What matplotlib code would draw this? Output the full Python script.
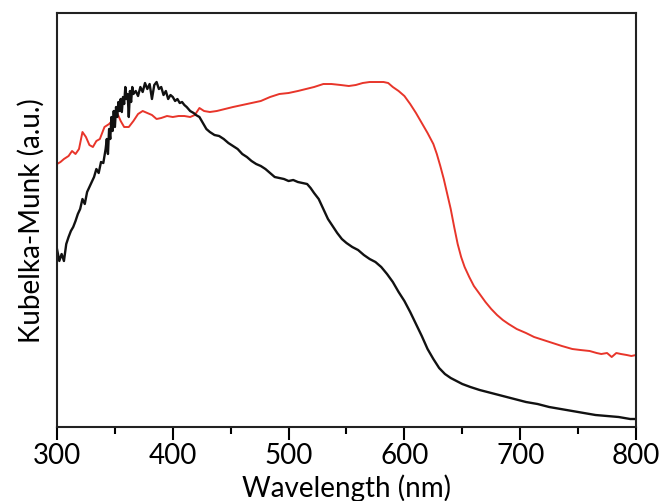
import matplotlib.pyplot as plt
from matplotlib.ticker import MultipleLocator

# red sample: wavelength (nm) and Kubelka-Munk (a.u.)
red_wl = [300, 303, 306, 310, 313, 316, 319, 322, 325, 328, 331, 334, 337, 341, 345,
          349, 352, 355, 358, 362, 366, 370, 374, 378, 382, 386, 390, 395, 400, 405,
          410, 415, 419, 423, 427, 432, 438, 445, 452, 460, 468, 476, 484, 492, 500,
          508, 515, 522, 530, 537, 545, 552, 558, 564, 570, 576, 582, 586, 590, 595,
          600, 605, 610, 615, 620, 625, 628, 631, 634, 637, 640, 643, 646, 649, 652,
          656, 660, 665, 670, 675, 680, 685, 690, 697, 705, 712, 720, 728, 736, 745,
          752, 760, 766, 770, 775, 779, 783, 787, 792, 796, 800]
red_km = [263, 265, 268, 271, 276, 273, 278, 295, 290, 282, 280, 286, 288, 300, 303,
          308, 314, 306, 300, 300, 306, 313, 316, 314, 312, 308, 309, 311, 310, 311,
          311, 310, 312, 319, 316, 315, 316, 318, 320, 322, 324, 326, 330, 333, 334,
          336, 338, 340, 343, 343, 342, 341, 342, 344, 345, 345, 345, 344, 340, 336,
          331, 323, 314, 304, 294, 283, 273, 261, 248, 233, 218, 200, 183, 170, 160,
          150, 141, 133, 125, 118, 112, 107, 103, 98, 94, 90, 87, 84, 81, 78,
          77, 76, 74, 73, 74, 70, 74, 73, 72, 71, 72]

# black sample
blk_wl = [300, 302, 304, 306, 308, 310, 312, 314, 316, 318, 320, 322, 324, 326, 328,
          330, 332, 334, 336, 338, 340, 342, 343, 344, 345, 346, 347, 348, 349, 350,
          351, 352, 353, 354, 355, 356, 357, 358, 359, 360, 361, 362, 363, 364, 365,
          366, 368, 370, 372, 374, 376, 378, 380, 382, 384, 386, 388, 390, 392, 394,
          396, 398, 400, 402, 404, 406, 408, 410, 412, 415, 418, 420, 423, 426, 429,
          432, 436, 440, 444, 448, 452, 456, 460, 464, 468, 472, 476, 480, 484, 488,
          492, 496, 500, 504, 508, 512, 516, 519, 522, 526, 530, 534, 538, 542, 546,
          550, 555, 560, 565, 570, 575, 580, 585, 590, 595, 600, 605, 610, 615, 620,
          625, 630, 635, 640, 645, 650, 657, 665, 675, 685, 695, 705, 715, 725, 735,
          745, 755, 765, 775, 785, 795, 800]
blk_km = [178, 166, 173, 166, 183, 190, 196, 200, 206, 213, 218, 228, 223, 235, 240,
          245, 250, 258, 254, 265, 264, 278, 288, 273, 298, 288, 310, 296, 316, 300,
          320, 310, 325, 316, 328, 315, 330, 323, 340, 328, 333, 310, 336, 325, 340,
          333, 336, 331, 340, 335, 344, 338, 343, 328, 342, 345, 338, 340, 332, 336,
          328, 332, 330, 326, 328, 324, 325, 322, 320, 316, 314, 312, 310, 304, 298,
          295, 292, 291, 288, 284, 281, 278, 273, 270, 266, 263, 261, 258, 254, 250,
          249, 248, 246, 247, 245, 244, 243, 239, 234, 228, 218, 208, 201, 194, 188,
          184, 180, 177, 172, 168, 165, 160, 153, 145, 135, 126, 115, 103, 91, 78,
          68, 59, 53, 49, 46, 43, 40, 37, 34, 31, 28, 25, 23, 20, 18,
          16, 14, 12, 11, 10, 8, 8]

plt.rcParams['font.family'] = ['Lato', 'DejaVu Sans']

fig = plt.figure(figsize=(6.65, 5.02), dpi=100)
ax = fig.add_axes([0.0857, 0.1474, 0.8707, 0.8247])

ax.plot(red_wl, red_km, color="#e8352a", lw=1.4)
ax.plot(blk_wl, blk_km, color="#111111", lw=1.7)

ax.set_xlim(300, 800)
ax.set_ylim(0, 414)
ax.xaxis.set_major_locator(MultipleLocator(100))
ax.xaxis.set_minor_locator(MultipleLocator(50))
ax.set_yticks([])
ax.tick_params(axis="x", which="major", direction="out", length=9, width=1.5,
               labelsize=20, pad=2, top=False)
ax.tick_params(axis="x", which="minor", direction="out", length=5, width=1.5, top=False)
for s in ax.spines.values():
    s.set_linewidth(1.5)
    s.set_color("#222222")

ax.set_xlabel("Wavelength (nm)", fontsize=20, labelpad=4)
ax.set_ylabel("Kubelka-Munk (a.u.)", fontsize=20, labelpad=9)

fig.savefig("out.png", dpi=100)
